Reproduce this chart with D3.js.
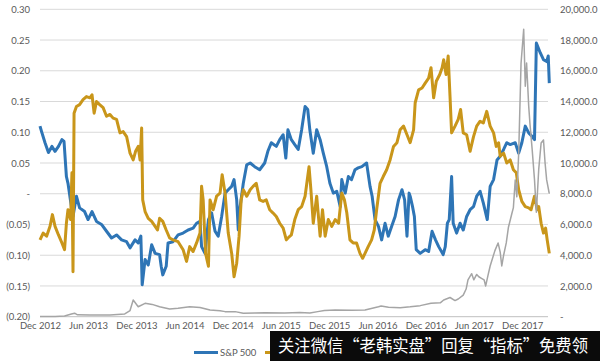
<!DOCTYPE html>
<html>
<head>
<meta charset="utf-8">
<script src="https://cdn.jsdelivr.net/npm/d3@7/dist/d3.min.js"></script>
<style>
  html, body { margin: 0; padding: 0; background: #fff; }
  svg { display: block; }
  text { font-family: Lato, "Liberation Sans", sans-serif; fill: #595959; }
</style>
</head>
<body>
<svg id="chart" width="600" height="361"></svg>
<script>
// ---------------- DATA ----------------
const xTickLabels = ["Dec 2012","Jun 2013","Dec 2013","Jun 2014","Dec 2014","Jun 2015","Dec 2015","Jun 2016","Dec 2016","Jun 2017","Dec 2017"];
const leftTicks = [0.30,0.25,0.20,0.15,0.10,0.05,0,-0.05,-0.10,-0.15,-0.20];
const rightTicks = [20000,18000,16000,14000,12000,10000,8000,6000,4000,2000,0];
const dateDomain = ["2012-12-01","2018-03-14"];

const sp500 = [
["2012-12-01",0.110],["2012-12-07",0.101],["2012-12-20",0.083],["2013-01-02",0.067],["2013-01-15",0.077],
["2013-01-27",0.069],["2013-02-09",0.077],["2013-02-22",0.088],["2013-03-02",0.085],["2013-03-11",0.028],
["2013-03-17",0.017],["2013-03-27",-0.0125],["2013-04-05",-0.037],["2013-04-18",-0.004],["2013-04-30",-0.023],
["2013-05-19",-0.029],["2013-06-01",-0.042],["2013-06-16",-0.029],["2013-07-03",-0.045],["2013-07-22",-0.050],
["2013-08-10",-0.061],["2013-08-29",-0.072],["2013-09-17",-0.067],["2013-10-06",-0.075],["2013-10-25",-0.078],
["2013-11-07",-0.088],["2013-11-26",-0.075],["2013-12-08",-0.080],["2013-12-18",-0.069],["2013-12-23",-0.148],
["2014-01-03",-0.107],["2014-01-15",-0.116],["2014-01-28",-0.083],["2014-02-10",-0.097],["2014-02-27",-0.099],
["2014-03-05",-0.118],["2014-03-11",-0.132],["2014-03-24",-0.118],["2014-03-31",-0.080],["2014-04-19",-0.078],
["2014-05-08",-0.067],["2014-05-27",-0.064],["2014-06-15",-0.059],["2014-07-04",-0.056],["2014-07-17",-0.048],
["2014-07-30",-0.045],["2014-08-05",-0.086],["2014-08-18",-0.097],["2014-08-31",-0.042],["2014-09-12",-0.031],
["2014-09-25",-0.061],["2014-10-07",-0.069],["2014-10-20",-0.037],["2014-11-02",0.001],["2014-11-14",0.0065],
["2014-11-27",0.012],["2014-12-06",0.023],["2014-12-16",-0.010],["2014-12-22",-0.059],["2014-12-29",-0.021],
["2015-01-10",0.017],["2015-01-23",0.047],["2015-02-05",0.050],["2015-02-22",0.044],["2015-03-13",0.039],
["2015-04-01",0.050],["2015-04-13",0.069],["2015-04-26",0.083],["2015-05-15",0.077],["2015-05-28",0.088],
["2015-06-10",0.096],["2015-06-20",0.058],["2015-06-28",0.104],["2015-07-11",0.088],["2015-07-24",0.080],
["2015-08-06",0.072],["2015-08-19",0.104],["2015-09-01",0.142],["2015-09-11",0.137],["2015-09-19",0.104],
["2015-10-02",0.066],["2015-10-15",0.104],["2015-10-28",0.088],["2015-11-09",0.066],["2015-11-22",0.044],
["2015-12-04",0.017],["2015-12-17",0.001],["2015-12-30",0.004],["2016-01-12",-0.021],["2016-01-18",0.023],
["2016-01-31",0.001],["2016-02-12",0.028],["2016-02-24",0.023],["2016-03-08",0.039],["2016-03-20",0.042],
["2016-04-03",0.044],["2016-04-21",0.050],["2016-05-04",0.012],["2016-05-12",-0.004],["2016-05-23",-0.042],
["2016-06-05",-0.053],["2016-06-17",-0.075],["2016-06-30",-0.048],["2016-07-12",-0.069],["2016-07-25",-0.053],
["2016-08-07",-0.037],["2016-08-20",-0.010],["2016-09-02",0.0065],["2016-09-12",-0.010],["2016-09-21",-0.069],
["2016-09-29",0.001],["2016-10-03",-0.004],["2016-10-12",-0.021],["2016-10-19",-0.037],["2016-10-26",-0.091],
["2016-11-10",-0.097],["2016-11-29",-0.091],["2016-12-12",-0.094],["2016-12-25",-0.061],["2017-01-07",-0.075],
["2017-01-19",-0.086],["2017-02-05",-0.099],["2017-02-13",-0.086],["2017-02-21",-0.048],["2017-02-28",-0.042],
["2017-03-09",0.028],["2017-03-15",-0.048],["2017-03-28",-0.064],["2017-04-10",-0.048],["2017-04-22",-0.059],
["2017-05-05",-0.037],["2017-05-18",-0.026],["2017-05-31",-0.021],["2017-06-12",-0.004],["2017-06-25",0.004],
["2017-07-07",-0.015],["2017-07-22",-0.042],["2017-08-02",0.012],["2017-08-15",0.023],["2017-08-28",0.055],
["2017-09-09",0.061],["2017-09-22",0.072],["2017-10-04",0.083],["2017-10-17",0.080],["2017-11-05",0.083],
["2017-11-18",0.066],["2017-11-30",0.083],["2017-12-13",0.110],["2017-12-26",0.099],["2018-01-08",0.093],
["2018-01-17",0.088],["2018-01-24",0.245],["2018-02-08",0.229],["2018-02-20",0.218],["2018-03-04",0.215],
["2018-03-10",0.224],["2018-03-14",0.180]
];

const gold = [
["2012-12-01",-0.075],["2012-12-13",-0.064],["2012-12-26",-0.069],["2013-01-08",-0.053],["2013-01-17",-0.034],
["2013-01-27",-0.053],["2013-02-09",-0.067],["2013-02-22",-0.080],["2013-03-04",-0.091],["2013-03-11",-0.048],
["2013-03-17",-0.026],["2013-03-27",-0.042],["2013-04-01",0.034],["2013-04-05",-0.127],["2013-04-09",0.131],
["2013-04-18",0.142],["2013-04-30",0.145],["2013-05-13",0.153],["2013-05-26",0.158],["2013-06-08",0.156],
["2013-06-16",0.161],["2013-06-24",0.131],["2013-07-03",0.150],["2013-07-15",0.145],["2013-07-28",0.140],
["2013-08-10",0.126],["2013-08-23",0.129],["2013-09-04",0.123],["2013-09-17",0.121],["2013-09-30",0.099],
["2013-10-12",0.101],["2013-10-25",0.093],["2013-11-07",0.066],["2013-11-19",0.055],["2013-11-28",0.069],
["2013-12-08",0.077],["2013-12-15",0.055],["2013-12-21",0.107],["2013-12-25",-0.010],["2014-01-03",-0.029],
["2014-01-15",-0.040],["2014-01-28",-0.045],["2014-02-10",-0.053],["2014-02-19",-0.059],["2014-02-27",-0.040],
["2014-03-11",-0.045],["2014-03-24",-0.059],["2014-04-06",-0.072],["2014-04-19",-0.075],["2014-05-08",-0.078],
["2014-05-27",-0.091],["2014-06-09",-0.110],["2014-06-21",-0.086],["2014-07-04",-0.094],["2014-07-17",-0.080],
["2014-07-30",-0.064],["2014-08-05",0.012],["2014-08-11",-0.010],["2014-08-20",-0.097],["2014-08-31",-0.118],
["2014-09-06",-0.010],["2014-09-18",-0.026],["2014-10-01",-0.004],["2014-10-14",0.001],["2014-10-22",0.031],
["2014-11-02",0.001],["2014-11-14",-0.064],["2014-11-27",-0.097],["2014-12-06",-0.135],["2014-12-16",-0.113],
["2014-12-25",-0.069],["2015-01-02",-0.010],["2015-01-10",0.0065],["2015-01-23",-0.004],["2015-02-05",0.0065],
["2015-02-16",0.012],["2015-02-28",0.017],["2015-03-13",-0.010],["2015-03-26",-0.0125],["2015-04-07",-0.010],
["2015-04-20",-0.026],["2015-05-02",-0.031],["2015-05-15",-0.037],["2015-05-28",-0.048],["2015-06-10",-0.056],
["2015-06-22",-0.075],["2015-06-28",-0.072],["2015-07-11",-0.067],["2015-07-24",-0.042],["2015-08-06",-0.026],
["2015-08-19",-0.021],["2015-09-01",-0.004],["2015-09-11",0.028],["2015-09-16",0.044],["2015-09-23",0.0065],
["2015-10-02",-0.048],["2015-10-15",-0.004],["2015-10-28",-0.069],["2015-11-06",-0.026],["2015-11-16",-0.069],
["2015-11-28",-0.042],["2015-12-11",-0.053],["2015-12-24",-0.042],["2016-01-06",-0.048],["2016-01-18",0.001],
["2016-01-28",-0.010],["2016-02-06",-0.031],["2016-02-18",-0.075],["2016-03-01",-0.080],["2016-03-14",-0.080],
["2016-03-27",-0.097],["2016-04-06",-0.105],["2016-04-15",-0.097],["2016-04-27",-0.086],["2016-05-10",-0.075],
["2016-05-20",-0.059],["2016-05-29",-0.026],["2016-06-11",0.017],["2016-06-23",0.028],["2016-07-06",0.039],
["2016-07-19",0.055],["2016-08-01",0.077],["2016-08-14",0.083],["2016-08-26",0.104],["2016-09-08",0.110],
["2016-09-21",0.096],["2016-10-03",0.083],["2016-10-16",0.104],["2016-10-22",0.148],["2016-11-04",0.169],
["2016-11-17",0.172],["2016-11-29",0.180],["2016-12-12",0.188],["2016-12-21",0.205],["2016-12-31",0.156],
["2017-01-10",0.183],["2017-01-23",0.194],["2017-02-01",0.205],["2017-02-07",0.218],["2017-02-16",0.194],
["2017-02-24",0.224],["2017-03-03",0.158],["2017-03-09",0.099],["2017-03-22",0.110],["2017-04-03",0.121],
["2017-04-12",0.137],["2017-04-22",0.099],["2017-05-05",0.096],["2017-05-18",0.069],["2017-05-31",0.093],
["2017-06-12",0.110],["2017-06-25",0.118],["2017-07-07",0.115],["2017-07-20",0.134],["2017-08-02",0.110],
["2017-08-15",0.099],["2017-08-25",0.077],["2017-09-03",0.083],["2017-09-09",0.061],["2017-09-22",0.066],
["2017-10-04",0.050],["2017-10-17",0.055],["2017-10-29",0.039],["2017-11-09",0.034],["2017-11-18",0.0065],
["2017-11-30",-0.0125],["2017-12-13",-0.021],["2017-12-26",-0.023],["2018-01-04",-0.026],["2018-01-17",-0.004],
["2018-01-27",-0.026],["2018-02-02",-0.021],["2018-02-11",-0.048],["2018-02-20",-0.064],["2018-02-28",-0.056],
["2018-03-06",-0.075],["2018-03-14",-0.097]
];

const bitcoin = [
["2012-12-01",13],["2013-01-27",20],["2013-03-04",40],["2013-03-30",170],["2013-04-11",230],["2013-04-22",120],
["2013-06-08",110],["2013-08-23",110],["2013-10-18",180],["2013-11-07",400],["2013-11-19",1090],["2013-12-08",650],
["2014-01-03",870],["2014-01-30",800],["2014-02-27",650],["2014-04-06",500],["2014-05-08",550],["2014-06-21",650],
["2014-07-30",600],["2014-09-06",440],["2014-10-14",380],["2014-11-02",330],["2014-12-10",330],["2015-01-10",220],
["2015-02-22",240],["2015-04-01",250],["2015-06-16",240],["2015-08-12",270],["2015-09-19",235],["2015-10-19",330],
["2015-11-13",400],["2015-12-24",440],["2016-02-24",420],["2016-04-15",430],["2016-06-05",650],["2016-06-15",700],
["2016-07-13",620],["2016-08-26",580],["2016-10-03",640],["2016-11-10",720],["2016-12-21",870],["2017-01-25",900],
["2017-02-07",1090],["2017-03-03",1250],["2017-03-22",1050],["2017-04-03",1150],["2017-04-22",1400],["2017-05-03",1800],
["2017-05-10",2400],["2017-05-24",2800],["2017-06-01",2400],["2017-06-12",2750],["2017-06-20",2600],["2017-06-30",2500],
["2017-07-10",2400],["2017-07-16",2000],["2017-07-25",2700],["2017-08-02",3300],["2017-08-20",4300],["2017-09-01",4800],
["2017-09-09",4200],["2017-09-15",3300],["2017-09-22",4000],["2017-10-02",4800],["2017-10-10",5800],["2017-10-23",6700],
["2017-10-29",7100],["2017-11-05",8900],["2017-11-11",7800],["2017-11-18",10600],["2017-11-27",16500],["2017-12-07",18700],
["2017-12-13",15000],["2017-12-18",16500],["2017-12-26",13700],["2017-12-31",12500],["2018-01-08",10900],["2018-01-17",8900],
["2018-01-24",6800],["2018-02-02",9600],["2018-02-11",11300],["2018-02-20",11500],["2018-02-26",10000],["2018-03-04",8900],
["2018-03-14",8000]
];

const seriesNames = ["S&P 500", "Gold", "Bitcoin"];
const bannerText = "关注微信“老韩实盘”回复“指标”免费领";

// ---------------- DRAW ----------------
const parse = d3.timeParse("%Y-%m-%d");
const svg = d3.select("#chart");
svg.append("rect").attr("width", 600).attr("height", 361).attr("fill", "#fff");

const plot = { left: 40, right: 549.3, top: 9.3, bottom: 316.7 };
const x = d3.scaleTime().domain(dateDomain.map(parse)).range([plot.left, plot.right]);
const yL = d3.scaleLinear().domain([-0.20, 0.30]).range([plot.bottom, plot.top]);
const yR = d3.scaleLinear().domain([0, 20000]).range([plot.bottom, plot.top]);

// gridlines
svg.append("g").selectAll("line").data(leftTicks).join("line")
  .attr("x1", plot.left).attr("x2", 548)
  .attr("y1", d => yL(d)).attr("y2", d => yL(d))
  .attr("stroke", d => d === -0.20 ? "#bfbfbf" : "#d9d9d9").attr("stroke-width", 1);

// left axis
const fmtL = d => d === 0 ? "-" : (d < 0 ? "(" + d3.format(".2f")(-d) + ")" : d3.format(".2f")(d));
const gL = svg.append("g").attr("transform", `translate(${plot.left - 10},0)`)
  .call(d3.axisLeft(yL).tickValues(leftTicks).tickFormat(fmtL).tickSize(0).tickPadding(0));
gL.select(".domain").remove();
gL.selectAll("text").attr("font-size", "9.5px").attr("fill", "#595959")
  .style("font-family", "Lato, sans-serif");

// right axis
const fmtR = d => d === 0 ? "-" : d3.format(",.1f")(d);
const gR = svg.append("g").attr("transform", `translate(560,0)`)
  .call(d3.axisRight(yR).tickValues(rightTicks).tickFormat(fmtR).tickSize(0).tickPadding(0));
gR.select(".domain").remove();
gR.selectAll("text").attr("font-size", "9.5px").attr("fill", "#595959")
  .style("font-family", "Lato, sans-serif");

// bottom axis
const tickDates = xTickLabels.map(d3.timeParse("%b %Y"));
const gB = svg.append("g").attr("transform", `translate(0,${plot.bottom + 6})`)
  .call(d3.axisBottom(x).tickValues(tickDates).tickFormat(d3.timeFormat("%b %Y")).tickSize(0).tickPadding(0));
gB.select(".domain").remove();
gB.selectAll("text").attr("font-size", "9.5px").attr("fill", "#595959")
  .style("font-family", "Lato, sans-serif");

// lines
const lineL = d3.line().x(d => x(parse(d[0]))).y(d => yL(d[1])).curve(d3.curveLinear);
const lineR = d3.line().x(d => x(parse(d[0]))).y(d => yR(d[1])).curve(d3.curveLinear);

svg.append("path").datum(sp500).attr("d", lineL).attr("fill", "none")
  .attr("stroke", "#2e75b6").attr("stroke-width", 3).attr("stroke-linejoin", "round");
svg.append("path").datum(gold).attr("d", lineL).attr("fill", "none")
  .attr("stroke", "#c9961a").attr("stroke-width", 3).attr("stroke-linejoin", "round");
svg.append("path").datum(bitcoin).attr("d", lineR).attr("fill", "none")
  .attr("stroke", "#a5a5a5").attr("stroke-width", 1.5).attr("stroke-linejoin", "round");

// legend
const lg = svg.append("g");
lg.append("line").attr("x1", 194).attr("x2", 218).attr("y1", 352.5).attr("y2", 352.5)
  .attr("stroke", "#2e75b6").attr("stroke-width", 3);
lg.append("text").attr("x", 220).attr("y", 356).attr("font-size", "9.5px").text(seriesNames[0]);
lg.append("line").attr("x1", 265).attr("x2", 289).attr("y1", 352.5).attr("y2", 352.5)
  .attr("stroke", "#c9961a").attr("stroke-width", 3);

// watermark banner (present on the reference image)
svg.append("rect").attr("x", 270).attr("y", 331).attr("width", 330).attr("height", 30).attr("fill", "#0b0b0b");
svg.append("text").attr("x", 278).attr("y", 352).attr("textLength", 310).attr("lengthAdjust", "spacingAndGlyphs")
  .attr("font-size", "17px").style("font-family", '"Noto Sans CJK SC", sans-serif').style("fill", "#ffffff")
  .text(bannerText);
</script>
</body>
</html>
